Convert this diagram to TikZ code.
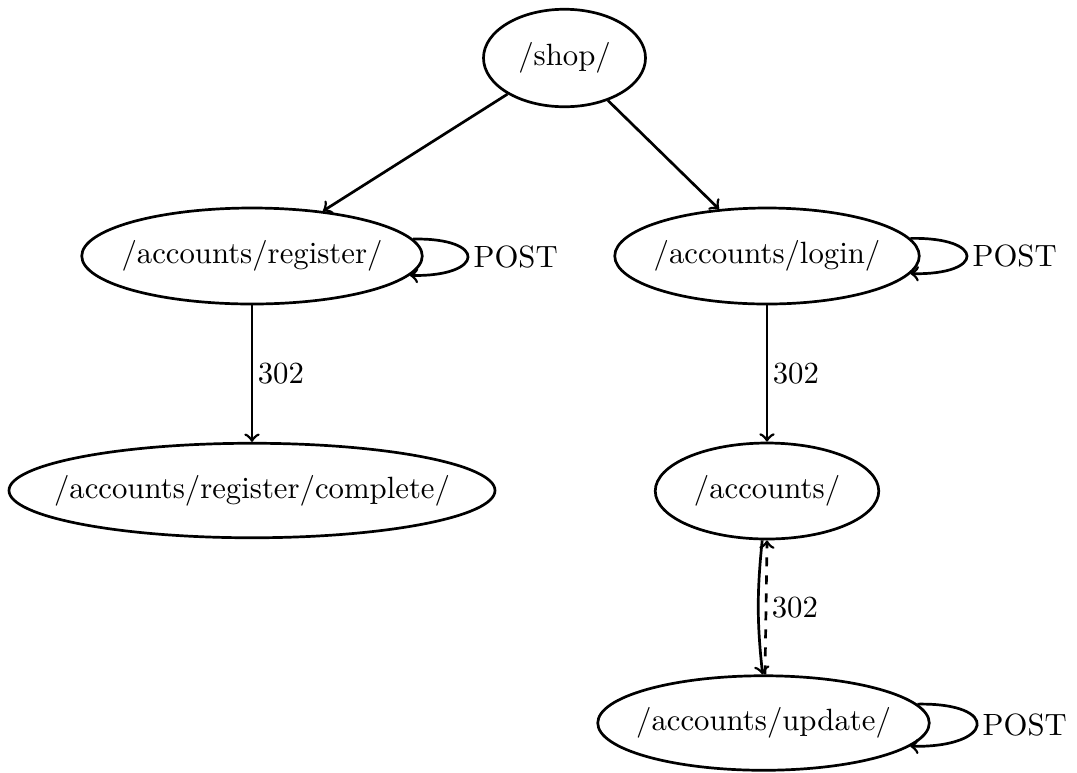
\documentclass[tikz,border=0pt]{standalone}
\usetikzlibrary{shapes.geometric}
% zero-width label box, so the ellipse takes its size from minimum width/height only
\newcommand\plabel[1]{\makebox[0pt]{#1}}
\begin{document}
\begin{tikzpicture}[x=0.33333pt, y=-0.33333pt, line width=0.9pt,
  every node/.style={font=\fontsize{10.25}{12}\selectfont},
  page/.style={ellipse, draw, inner sep=0pt},
  link/.style={->},
  lbl/.style={right, inner sep=1.5pt}]
\useasboundingbox (0,0) rectangle (1077,772);

% pages
\node[page, minimum width=54pt,  minimum height=32.5pt] (shop)  at (564.5,58)  {\plabel{/shop/}};
\node[page, minimum width=113.5pt, minimum height=32pt] (reg)   at (252,256)   {\plabel{/accounts/register/}};
\node[page, minimum width=101.5pt, minimum height=32pt] (login) at (767,256)   {\plabel{/accounts/login/}};
\node[page, minimum width=162pt, minimum height=31.5pt] (done)  at (252,490.5) {\plabel{/accounts/register/complete/}};
\node[page, minimum width=74.5pt, minimum height=32pt]  (acc)   at (767,491)   {\plabel{/accounts/}};
\node[page, minimum width=110.5pt, minimum height=31.5pt] (upd) at (763.5,723) {\plabel{/accounts/update/}};

% navigation
\draw[link] (shop) -- (reg);
\draw[link] (shop) -- (login);
\draw[link] (reg) -- node[lbl] {302} (done);
\draw[link] (login) -- node[lbl] {302} (acc);
\draw[link] ([xshift=-1.6pt]acc.south) to[bend right=6] ([xshift=-0.3pt]upd.north);
\draw[link, dashed] ([xshift=0.5pt]upd.north) -- node[lbl] {302} (acc.south);

% POST self-loops
\draw[link] (reg.6) .. controls +(25pt,0.5pt) and +(25pt,-0.5pt) .. node[lbl] {POST} (reg.-7);
\draw[link] (login.7) .. controls +(25pt,0.5pt) and +(25pt,-0.5pt) .. node[lbl] {POST} (login.-7.5);
\draw[link] (upd.7.5) .. controls +(28pt,0.5pt) and +(28pt,-0.5pt) .. node[lbl] {POST} (upd.-9);
\end{tikzpicture}
\end{document}
